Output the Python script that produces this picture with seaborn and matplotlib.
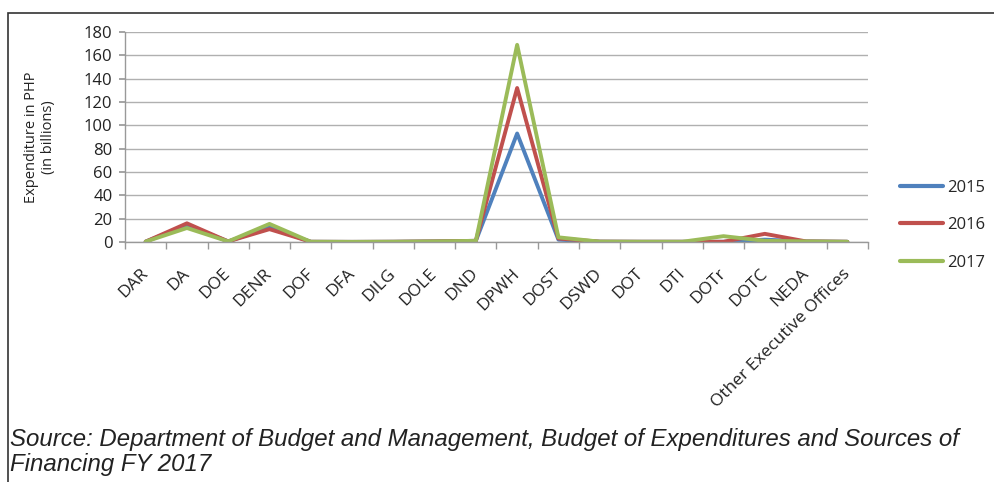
import matplotlib
matplotlib.use("Agg")
import matplotlib.pyplot as plt
from matplotlib.patches import Rectangle
from matplotlib.ticker import FixedLocator
import seaborn as sns
import pandas as pd
import numpy as np

departments = ["DAR", "DA", "DOE", "DENR", "DOF", "DFA", "DILG", "DOLE", "DND",
               "DPWH", "DOST", "DSWD", "DOT", "DTI", "DOTr", "DOTC", "NEDA",
               "Other Executive Offices"]
years = ["2015", "2016", "2017"]
values_2015 = [0.3, 14.5, 0.5, 12.5, 0.2, 0.1, 0.2, 0.5, 1.0, 93, 2.0, 0.3, 0.2, 0.2, 0.2, 2.0, 0.5, 0.2]
values_2016 = [0.3, 16.0, 0.5, 11.0, 0.2, 0.1, 0.2, 0.5, 1.0, 132, 3.0, 0.3, 0.2, 0.2, 0.2, 7.0, 0.5, 0.2]
values_2017 = [0.3, 12.0, 0.5, 15.5, 0.2, 0.1, 0.2, 0.5, 1.0, 169, 4.0, 0.3, 0.2, 0.2, 5.0, 1.0, 0.5, 0.2]
colors = ["#4F81BD", "#C0504D", "#9BBB59"]

df = pd.DataFrame({
    "Department": departments * 3,
    "Year": sum([[y] * len(departments) for y in years], []),
    "Value": values_2015 + values_2016 + values_2017,
})

sns.set_theme(style="white")
plt.rcParams["font.family"] = ["Open Sans", "DejaVu Sans"]

fig = plt.figure(figsize=(9.95, 4.82), dpi=100)
ax = fig.add_axes([125/995, 1-242/482, (868-125)/995, (242-32)/482])

sns.lineplot(data=df, x="Department", y="Value", hue="Year", palette=colors,
             linewidth=2.8, ax=ax, sort=False, legend=True)

ax.set_xlim(-0.5, len(departments) - 0.5)
ax.set_ylim(0, 180)
ax.set_yticks(np.arange(0, 181, 20))
ax.yaxis.grid(True, color="#b0b0b0", linewidth=1)
ax.xaxis.grid(False)
for s in ["top", "right"]:
    ax.spines[s].set_visible(False)
for s in ["left", "bottom"]:
    ax.spines[s].set_color("#999999")
    ax.spines[s].set_linewidth(1)

ax.set_xticks(range(len(departments)))
ax.set_xticklabels(departments, rotation=45, ha="right", va="center",
                   rotation_mode="anchor", fontsize=12.5, color="#222222")
ax.tick_params(axis="x", which="major", length=0, pad=21)
ax.xaxis.set_minor_locator(FixedLocator(np.arange(-0.5, len(departments), 1.0)))
ax.tick_params(axis="x", which="minor", length=5, color="#999999", direction="out", bottom=True)
ax.tick_params(axis="y", length=4, color="#999999", direction="out", left=True,
               labelsize=12, labelcolor="#222222", pad=5)
ax.set_xlabel("")
ax.set_ylabel("Expenditure in PHP\n(in billions)", fontsize=10.5, color="#222222",
              linespacing=1.15, labelpad=20)

handles, labels = ax.get_legend_handles_labels()
leg = ax.legend(handles, labels, loc="center left", bbox_to_anchor=(1.043, 0.08),
                bbox_transform=ax.transAxes,
                frameon=False, fontsize=12, handlelength=2.6, labelspacing=1.3,
                handletextpad=0.25, borderpad=0, borderaxespad=0, title=None)
for line in leg.get_lines():
    line.set_linewidth(3.0)

fig.add_artist(Rectangle((8/995, -0.1), 1.2, 1 - 13/482 + 0.1, transform=fig.transFigure,
                         fill=False, edgecolor="#333333", linewidth=1.2))

fig.text(10/995, 1-446/482, "Source: Department of Budget and Management, Budget of Expenditures and Sources of",
         fontsize=17.3, style="italic", family="Liberation Sans", color="#222222", va="baseline")
fig.text(10/995, 1-471/482, "Financing FY 2017",
         fontsize=17.3, style="italic", family="Liberation Sans", color="#222222", va="baseline")

fig.savefig("out.png", dpi=100)
